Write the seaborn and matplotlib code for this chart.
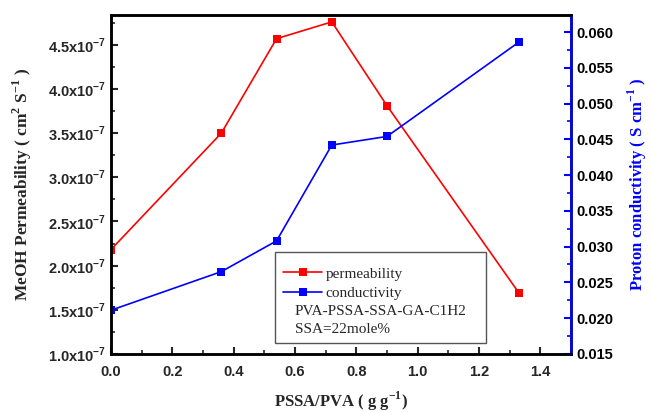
import matplotlib
matplotlib.use('Agg')
import matplotlib.pyplot as plt
import matplotlib.patches as patches
from matplotlib.ticker import MultipleLocator, FuncFormatter
import seaborn as sns
import pandas as pd

# data
ratio = [0.0, 0.36, 0.54, 0.72, 0.90, 1.33]
permeability = [2.18e-7, 3.50e-7, 4.57e-7, 4.76e-7, 3.81e-7, 1.69e-7]
conductivity = [0.0211, 0.0265, 0.0308, 0.0442, 0.0454, 0.0586]

df = pd.DataFrame({'ratio': ratio, 'perm': permeability, 'cond': conductivity})

sns.set_style('ticks')
plt.rcParams['font.family'] = ['Liberation Sans', 'DejaVu Sans']
plt.rcParams['xtick.direction'] = 'in'
plt.rcParams['ytick.direction'] = 'in'

fig = plt.figure(figsize=(6.52, 4.12), dpi=100)
ax = fig.add_axes([0.170, 0.141, 0.706, 0.823])
ax2 = ax.twinx()

sns.lineplot(data=df, x='ratio', y='perm', ax=ax, color='red', marker='s',
             markersize=6, markeredgewidth=0, linewidth=1.2)
sns.lineplot(data=df, x='ratio', y='cond', ax=ax2, color='blue', marker='s',
             markersize=6, markeredgewidth=0, linewidth=1.2)

ax.set_xlim(0, 1.5)
ax.set_ylim(1.0e-7, 4.84e-7)
ax2.set_ylim(0.015, 0.0624)

ax.xaxis.set_major_locator(MultipleLocator(0.2))
ax.xaxis.set_minor_locator(MultipleLocator(0.1))
ax.yaxis.set_major_locator(MultipleLocator(0.5e-7))
ax.yaxis.set_minor_locator(MultipleLocator(0.25e-7))
ax2.yaxis.set_major_locator(MultipleLocator(0.005))
ax2.yaxis.set_minor_locator(MultipleLocator(0.0025))

ax.xaxis.set_major_formatter(FuncFormatter(lambda v, p: f'{v:.1f}'))
ax.yaxis.set_major_formatter(FuncFormatter(
    lambda v, p: r'%.1fx10$^{\mathregular{-7}}$' % (v * 1e7)))
ax2.yaxis.set_major_formatter(FuncFormatter(lambda v, p: f'{v:.3f}'))

for a in (ax, ax2):
    a.tick_params(which='major', length=5, width=1.5, labelsize=10.5)
    a.tick_params(which='minor', length=3, width=1.2)
    for lab in a.get_xticklabels() + a.get_yticklabels():
        lab.set_fontweight('bold')
    for s in a.spines.values():
        s.set_linewidth(1.8)
        s.set_color('black')

ax.tick_params(axis='x', which='major', pad=8)
ax.tick_params(axis='x', which='both', top=False)
ax.tick_params(axis='y', which='both', right=False)
ax2.spines['right'].set_color('blue')
ax2.tick_params(axis='y', which='both', colors='blue', labelcolor='black')

ax.set_xlabel('PSSA/PVA ( g g$^{\\mathregular{-1}}$)', family='Liberation Serif',
              fontweight='bold', fontsize=12, labelpad=8)
ax.set_ylabel('MeOH Permeability ( cm$^{\\mathregular{2}}$ S$^{\\mathregular{-1}}$ )',
              family='Liberation Serif', fontweight='bold', fontsize=12.5, labelpad=10)
ax2.set_ylabel('Proton conductivity ( S cm$^{\\mathregular{-1}}$ )',
               family='Liberation Serif', fontweight='bold', fontsize=12,
               color='blue', labelpad=9)

# legend box with two extra rows of text
box = patches.Rectangle((0.356, 0.033), 0.458, 0.268, transform=ax.transAxes,
                        facecolor='white', edgecolor='#555555', linewidth=1.0,
                        zorder=5)
ax2.add_patch(box)
h1 = ax.get_lines()[0]
h2 = ax2.get_lines()[0]
leg = ax2.legend([h1, h2], ['permeability', 'conductivity'], loc='upper left',
                 bbox_to_anchor=(0.36, 0.274), frameon=False,
                 prop={'family': 'Liberation Serif', 'size': 11},
                 handlelength=2.6, handletextpad=0.2, labelspacing=0.35,
                 borderaxespad=0)
leg.set_zorder(6)
ax2.text(0.4, 0.124, 'PVA-PSSA-SSA-GA-C1H2', transform=ax.transAxes,
         family='Liberation Serif', fontsize=11, va='center', zorder=7)
ax2.text(0.4, 0.071, 'SSA=22mole%', transform=ax.transAxes,
         family='Liberation Serif', fontsize=11, va='center', zorder=7)

fig.savefig('out.png', dpi=100)
